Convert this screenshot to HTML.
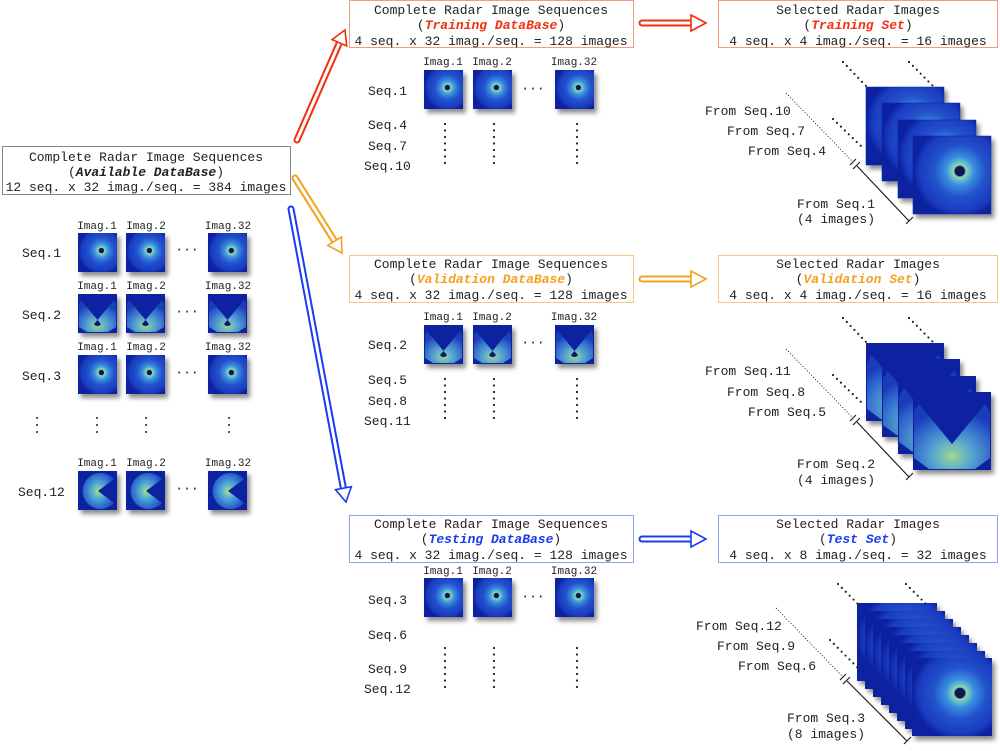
<!DOCTYPE html>
<html><head><meta charset="utf-8"><style>
html,body{margin:0;padding:0;background:#fff}
svg{display:block}
text{font-family:"Liberation Mono",monospace;font-size:13px;fill:#222}
.s{font-size:11px}
.m{text-anchor:middle}
</style></head><body>
<svg width="1000" height="751" viewBox="0 0 1000 751" xmlns="http://www.w3.org/2000/svg">
<defs>
<radialGradient id="gA" cx="0.6" cy="0.45" r="0.6">
<stop offset="0" stop-color="#08145a"/><stop offset="0.1" stop-color="#08145a"/><stop offset="0.13" stop-color="#8adcb0"/><stop offset="0.3" stop-color="#3a90e0"/><stop offset="0.55" stop-color="#2352cc"/><stop offset="0.85" stop-color="#1a3cc0"/><stop offset="1" stop-color="#0c22a0"/>
</radialGradient>
<radialGradient id="gB" cx="0.5" cy="0.8" r="0.7">
<stop offset="0" stop-color="#a0d890"/><stop offset="0.35" stop-color="#58a8d0"/><stop offset="0.8" stop-color="#2c60cc"/><stop offset="1" stop-color="#1a3cb8"/>
</radialGradient>
<radialGradient id="gC" cx="0.5" cy="0.5" r="0.55">
<stop offset="0" stop-color="#b0e080"/><stop offset="0.4" stop-color="#50a8d8"/><stop offset="1" stop-color="#2050c8"/>
</radialGradient>
<filter id="sh" x="-20%" y="-20%" width="150%" height="150%"><feDropShadow dx="3" dy="4" stdDeviation="2.5" flood-color="#000" flood-opacity="0.45"/></filter>
<g id="tA"><rect width="39" height="39" fill="url(#gA)" filter="url(#sh)"/></g>
<g id="tB"><rect width="39" height="39" fill="#0c20a0" filter="url(#sh)"/><path d="M3 6 L19.5 26 L36 6 L38 10 L38 33 L30 38 L9 38 L1 33 L1 10Z" fill="url(#gB)"/><path d="M16 30 L19.5 26 L23 30 A4 4 0 0 1 16 30Z" fill="#0a1a70"/></g>
<g id="tC"><rect width="39" height="39" fill="#0c20a0" filter="url(#sh)"/><path d="M36 8 L20 20 L36 32 A18 18 0 1 1 36 8Z" fill="url(#gC)"/></g>
<g id="bigA"><rect width="78" height="78" fill="url(#gA)" stroke="#0c20a0" stroke-width="0.5" filter="url(#sh)"/></g>
<g id="bigB"><rect width="78" height="78" fill="#0c20a0" filter="url(#sh)"/><path d="M6 12 L39 52 L72 12 L77 20 L77 66 L62 77 L16 77 L1 66 L1 20Z" fill="url(#gB)"/></g>
<g id="bigC"><rect width="80" height="78" fill="url(#gA)" filter="url(#sh)"/></g>
</defs>

<!-- Left box -->
<rect x="2.5" y="146.5" width="288" height="48" fill="#fff" stroke="#888"/>
<text x="146" y="161" class="m">Complete Radar Image Sequences</text>
<text x="146" y="176" class="m">(<tspan font-weight="bold" font-style="italic">Available DataBase</tspan>)</text>
<text x="146" y="191" class="m">12 seq. x 32 imag./seq. = 384 images</text>

<!-- Left grid -->
<text x="97" y="229" class="m s">Imag.1</text><text x="146" y="229" class="m s">Imag.2</text><text x="228" y="229" class="m s">Imag.32</text>
<text x="97" y="289" class="m s">Imag.1</text><text x="146" y="289" class="m s">Imag.2</text><text x="228" y="289" class="m s">Imag.32</text>
<text x="97" y="350" class="m s">Imag.1</text><text x="146" y="350" class="m s">Imag.2</text><text x="228" y="350" class="m s">Imag.32</text>
<text x="97" y="466" class="m s">Imag.1</text><text x="146" y="466" class="m s">Imag.2</text><text x="228" y="466" class="m s">Imag.32</text>
<use href="#tA" x="78" y="233"/><use href="#tA" x="126" y="233"/><use href="#tA" x="208" y="233"/>
<use href="#tB" x="78" y="294"/><use href="#tB" x="126" y="294"/><use href="#tB" x="208" y="294"/>
<use href="#tA" x="78" y="355"/><use href="#tA" x="126" y="355"/><use href="#tA" x="208" y="355"/>
<use href="#tC" x="78" y="471"/><use href="#tC" x="126" y="471"/><use href="#tC" x="208" y="471"/>
<text x="22" y="257">Seq.1</text><text x="22" y="319">Seq.2</text><text x="22" y="380">Seq.3</text><text x="18" y="496">Seq.12</text>
<text x="187" y="253" class="m">···</text><text x="187" y="315" class="m">···</text><text x="187" y="376" class="m">···</text><text x="187" y="492" class="m">···</text>
<g fill="#222"><circle cx="37" cy="418" r="1"/><circle cx="37" cy="425" r="1"/><circle cx="37" cy="432" r="1"/>
<circle cx="97" cy="418" r="1"/><circle cx="97" cy="425" r="1"/><circle cx="97" cy="432" r="1"/>
<circle cx="146" cy="418" r="1"/><circle cx="146" cy="425" r="1"/><circle cx="146" cy="432" r="1"/>
<circle cx="229" cy="418" r="1"/><circle cx="229" cy="425" r="1"/><circle cx="229" cy="432" r="1"/></g>

<!-- Diagonal arrows -->
<g stroke-linecap="round">
<line x1="297" y1="140" x2="339.4" y2="42.8" stroke="#f03010" stroke-width="7"/>
<line x1="297" y1="140" x2="339.4" y2="42.8" stroke="#fff" stroke-width="3"/>
<polygon points="345,30 346.7,46 332.1,39.6" fill="#fff" stroke="#f03010" stroke-width="1.6"/>
<line x1="295" y1="178" x2="334.6" y2="241.1" stroke="#f5a020" stroke-width="7"/>
<line x1="295" y1="178" x2="334.6" y2="241.1" stroke="#fff" stroke-width="3"/>
<polygon points="342,253 341.4,236.9 327.8,245.4" fill="#fff" stroke="#f5a020" stroke-width="1.6"/>
<line x1="291" y1="209" x2="343.4" y2="488.2" stroke="#1a3cf0" stroke-width="7"/>
<line x1="291" y1="209" x2="343.4" y2="488.2" stroke="#fff" stroke-width="3"/>
<polygon points="346,502 351.3,486.7 335.5,489.7" fill="#fff" stroke="#1a3cf0" stroke-width="1.6"/>
<line x1="642" y1="23" x2="691" y2="23" stroke="#f03010" stroke-width="7"/><line x1="642" y1="23" x2="691" y2="23" stroke="#fff" stroke-width="3"/>
<polygon points="706,23 691,15 691,31" fill="#fff" stroke="#f03010" stroke-width="1.6"/>
<line x1="642" y1="279" x2="691" y2="279" stroke="#f5a020" stroke-width="7"/><line x1="642" y1="279" x2="691" y2="279" stroke="#fff" stroke-width="3"/>
<polygon points="706,279 691,271 691,287" fill="#fff" stroke="#f5a020" stroke-width="1.6"/>
<line x1="642" y1="539" x2="691" y2="539" stroke="#1a3cf0" stroke-width="7"/><line x1="642" y1="539" x2="691" y2="539" stroke="#fff" stroke-width="3"/>
<polygon points="706,539 691,531 691,547" fill="#fff" stroke="#1a3cf0" stroke-width="1.6"/>
</g>

<!-- Training -->
<rect x="349.5" y="0.5" width="284" height="47" fill="#fff" stroke="#f59a8a"/>
<text x="491" y="14" class="m">Complete Radar Image Sequences</text>
<text x="491" y="29" class="m">(<tspan font-weight="bold" font-style="italic" fill="#f03010">Training DataBase</tspan>)</text>
<text x="491" y="45" class="m">4 seq. x 32 imag./seq. = 128 images</text>
<rect x="718.5" y="0.5" width="279" height="47" fill="#fff" stroke="#f59a8a"/>
<text x="858" y="14" class="m">Selected Radar Images</text>
<text x="858" y="29" class="m">(<tspan font-weight="bold" font-style="italic" fill="#f03010">Training Set</tspan>)</text>
<text x="858" y="45" class="m">4 seq. x 4 imag./seq. = 16 images</text>
<text x="443" y="65" class="m s">Imag.1</text><text x="492" y="65" class="m s">Imag.2</text><text x="574" y="65" class="m s">Imag.32</text>
<use href="#tA" x="424" y="70"/><use href="#tA" x="473" y="70"/><use href="#tA" x="555" y="70"/>
<text x="533" y="92" class="m">···</text>
<text x="368" y="95">Seq.1</text><text x="368" y="129">Seq.4</text><text x="368" y="150">Seq.7</text><text x="364" y="170">Seq.10</text>

<!-- Validation -->
<rect x="349.5" y="255.5" width="284" height="47" fill="#fff" stroke="#f8c880"/>
<text x="491" y="268" class="m">Complete Radar Image Sequences</text>
<text x="491" y="283" class="m">(<tspan font-weight="bold" font-style="italic" fill="#f5a020">Validation DataBase</tspan>)</text>
<text x="491" y="299" class="m">4 seq. x 32 imag./seq. = 128 images</text>
<rect x="718.5" y="255.5" width="279" height="47" fill="#fff" stroke="#f8c880"/>
<text x="858" y="268" class="m">Selected Radar Images</text>
<text x="858" y="283" class="m">(<tspan font-weight="bold" font-style="italic" fill="#f5a020">Validation Set</tspan>)</text>
<text x="858" y="299" class="m">4 seq. x 4 imag./seq. = 16 images</text>
<text x="443" y="320" class="m s">Imag.1</text><text x="492" y="320" class="m s">Imag.2</text><text x="574" y="320" class="m s">Imag.32</text>
<use href="#tB" x="424" y="325"/><use href="#tB" x="473" y="325"/><use href="#tB" x="555" y="325"/>
<text x="533" y="346" class="m">···</text>
<text x="368" y="349">Seq.2</text><text x="368" y="384">Seq.5</text><text x="368" y="405">Seq.8</text><text x="364" y="425">Seq.11</text>

<!-- Testing -->
<rect x="349.5" y="515.5" width="284" height="47" fill="#fff" stroke="#8aa0f5"/>
<text x="491" y="528" class="m">Complete Radar Image Sequences</text>
<text x="491" y="543" class="m">(<tspan font-weight="bold" font-style="italic" fill="#1a3cf0">Testing DataBase</tspan>)</text>
<text x="491" y="559" class="m">4 seq. x 32 imag./seq. = 128 images</text>
<rect x="718.5" y="515.5" width="279" height="47" fill="#fff" stroke="#8aa0f5"/>
<text x="858" y="528" class="m">Selected Radar Images</text>
<text x="858" y="543" class="m">(<tspan font-weight="bold" font-style="italic" fill="#1a3cf0">Test Set</tspan>)</text>
<text x="858" y="559" class="m">4 seq. x 8 imag./seq. = 32 images</text>
<text x="443" y="574" class="m s">Imag.1</text><text x="492" y="574" class="m s">Imag.2</text><text x="574" y="574" class="m s">Imag.32</text>
<use href="#tA" x="424" y="578"/><use href="#tA" x="473" y="578"/><use href="#tA" x="555" y="578"/>
<text x="533" y="600" class="m">···</text>
<text x="368" y="604">Seq.3</text><text x="368" y="639">Seq.6</text><text x="368" y="673">Seq.9</text><text x="364" y="693">Seq.12</text>

<!-- vertical dotted columns -->
<g stroke="#222" stroke-width="2.2" stroke-dasharray="0 6.5" stroke-linecap="round">
<line x1="445" y1="124" x2="445" y2="166"/><line x1="494" y1="124" x2="494" y2="166"/><line x1="577" y1="124" x2="577" y2="166"/>
<line x1="445" y1="379" x2="445" y2="421"/><line x1="494" y1="379" x2="494" y2="421"/><line x1="577" y1="379" x2="577" y2="421"/>
<line x1="445" y1="648" x2="445" y2="690"/><line x1="494" y1="648" x2="494" y2="690"/><line x1="577" y1="648" x2="577" y2="690"/>
</g>

<!-- Stacks -->
<use href="#bigA" x="866" y="87"/><use href="#bigA" x="882" y="103"/><use href="#bigA" x="898" y="120"/><use href="#bigA" x="913" y="136"/>
<use href="#bigB" x="866" y="343"/><use href="#bigB" x="882" y="359"/><use href="#bigB" x="898" y="376"/><use href="#bigB" x="913" y="392"/>
<use href="#bigC" x="857" y="603"/><use href="#bigC" x="865" y="611"/><use href="#bigC" x="873" y="619"/><use href="#bigC" x="881" y="627"/><use href="#bigC" x="889" y="635"/><use href="#bigC" x="897" y="643"/><use href="#bigC" x="905" y="651"/><use href="#bigC" x="912" y="658"/>

<!-- stack annotations -->
<g stroke="#222" stroke-width="2.2" stroke-dasharray="0 5.5" stroke-linecap="round" fill="none">
<line x1="843" y1="62" x2="867" y2="87"/><line x1="909" y1="62" x2="934" y2="87"/><line x1="833" y1="119" x2="863" y2="148"/>
<line x1="843" y1="318" x2="867" y2="343"/><line x1="909" y1="318" x2="934" y2="343"/><line x1="833" y1="375" x2="863" y2="404"/>
<line x1="838" y1="584" x2="858" y2="604"/><line x1="906" y1="584" x2="926" y2="604"/><line x1="830" y1="640" x2="858" y2="668"/>
</g>
<g stroke="#222" stroke-width="1" stroke-dasharray="1 2" fill="none">
<line x1="786" y1="93" x2="853" y2="162"/><line x1="786" y1="349" x2="853" y2="418"/><line x1="776" y1="608" x2="843" y2="677"/>
</g>
<g stroke="#222" stroke-width="1.2" fill="none">
<line x1="857" y1="166" x2="909" y2="221"/><path d="M850 165 L856 159 M853 169 L860 162 M906 224 L913 217"/>
<line x1="857" y1="422" x2="909" y2="477"/><path d="M850 421 L856 415 M853 425 L860 418 M906 480 L913 473"/>
<line x1="847" y1="681" x2="907" y2="741"/><path d="M840 680 L846 674 M843 684 L850 677 M904 744 L911 737"/>
</g>
<text x="705" y="115">From Seq.10</text><text x="727" y="135">From Seq.7</text><text x="748" y="155">From Seq.4</text>
<text x="797" y="208">From Seq.1</text><text x="797" y="223">(4 images)</text>
<text x="705" y="375">From Seq.11</text><text x="727" y="396">From Seq.8</text><text x="748" y="416">From Seq.5</text>
<text x="797" y="468">From Seq.2</text><text x="797" y="484">(4 images)</text>
<text x="696" y="630">From Seq.12</text><text x="717" y="650">From Seq.9</text><text x="738" y="670">From Seq.6</text>
<text x="787" y="722">From Seq.3</text><text x="787" y="738">(8 images)</text>
</svg>
</body></html>
